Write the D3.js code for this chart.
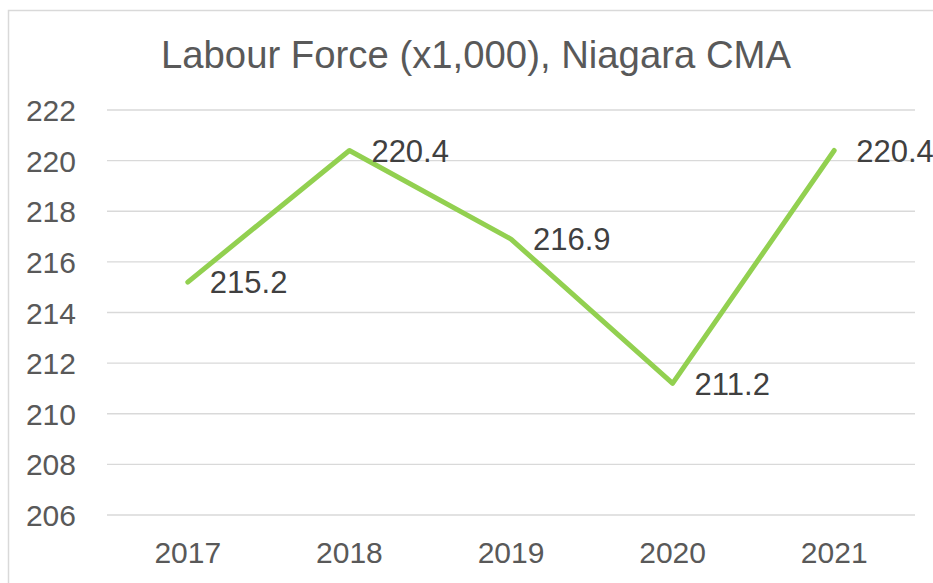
<!DOCTYPE html>
<html>
<head>
<meta charset="utf-8">
<script src="https://cdn.jsdelivr.net/npm/d3@7"></script>
<style>
  html, body { margin: 0; padding: 0; background: #fff; }
  svg { display: block; font-family: "Liberation Sans", Arial, sans-serif; }
</style>
</head>
<body>
<svg id="chart" width="933" height="583"></svg>
<script>
const categories = ["2017", "2018", "2019", "2020", "2021"];
const values = [215.2, 220.4, 216.9, 211.2, 220.4];
const yTicks = [206, 208, 210, 212, 214, 216, 218, 220, 222];
const title = "Labour Force (x1,000), Niagara CMA";

const svg = d3.select("#chart");
const plot = { left: 107, right: 915, top: 110, bottom: 515 };

svg.append("rect").attr("x", 8.5).attr("y", 10.5).attr("width", 940).attr("height", 600)
  .attr("fill", "#fff").attr("stroke", "#d9d9d9").attr("stroke-width", 1.5);

const x = d3.scaleBand().domain(categories).range([plot.left, plot.right]);
const y = d3.scaleLinear().domain([206, 222]).range([plot.bottom, plot.top]);

// gridlines
svg.append("g").selectAll("line").data(yTicks).join("line")
  .attr("x1", plot.left).attr("x2", plot.right)
  .attr("y1", d => y(d)).attr("y2", d => y(d))
  .attr("stroke", "#d9d9d9").attr("stroke-width", 1.3);

// y axis labels
const yAxis = d3.axisLeft(y).tickValues(yTicks).tickSize(0).tickPadding(0).tickFormat(d3.format("d"));
const gy = svg.append("g").attr("transform", `translate(76,0)`).call(yAxis);
gy.select(".domain").remove();
gy.selectAll("text").attr("font-size", 30).attr("fill", "#595959")
  .attr("font-family", "Liberation Sans, Arial, sans-serif").attr("dy", "0.35em");

// x axis labels
const xAxis = d3.axisBottom(x).tickSize(0).tickPadding(0);
const gx = svg.append("g").attr("transform", `translate(0,541)`).call(xAxis);
gx.select(".domain").remove();
gx.selectAll("text").attr("font-size", 30).attr("fill", "#595959")
  .attr("font-family", "Liberation Sans, Arial, sans-serif").attr("dy", "0.72em");

// title
svg.append("text").attr("x", 476).attr("y", 68).attr("text-anchor", "middle")
  .attr("font-size", 38.3).attr("fill", "#595959").text(title);

// line
const data = categories.map((c, i) => ({ c, v: values[i] }));
const line = d3.line().x(d => x(d.c) + x.bandwidth() / 2).y(d => y(d.v));
svg.append("path").datum(data).attr("d", line)
  .attr("fill", "none").attr("stroke", "#92D050").attr("stroke-width", 5)
  .attr("stroke-linecap", "round").attr("stroke-linejoin", "round");

// data labels
svg.append("g").selectAll("text").data(data).join("text")
  .attr("x", d => x(d.c) + x.bandwidth() / 2 + 22)
  .attr("y", d => y(d.v))
  .attr("dy", "0.36em")
  .attr("font-size", 31).attr("fill", "#404040")
  .text(d => d.v.toFixed(1));
</script>
</body>
</html>
